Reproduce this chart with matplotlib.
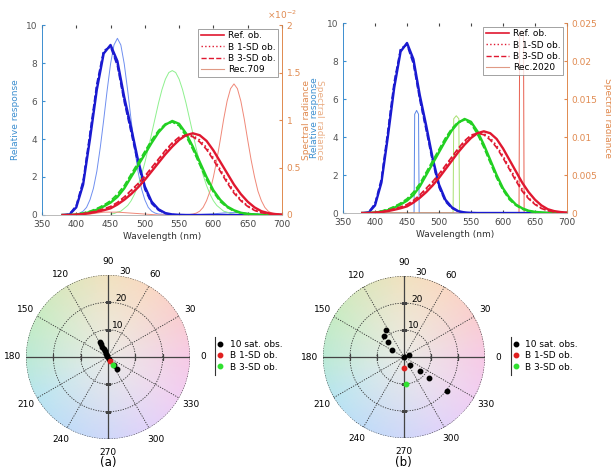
import numpy as np
import matplotlib
matplotlib.use("Agg")
import matplotlib.pyplot as plt
from matplotlib.lines import Line2D
from matplotlib.ticker import FuncFormatter

plt.rcParams['font.family'] = ['DejaVu Sans']

# ---------------- data ----------------
wl = [380, 390, 400, 410, 420, 430, 440, 450, 460, 470, 480, 490, 500, 510, 520, 530, 540,
      550, 560, 570, 580, 590, 600, 610, 620, 630, 640, 650, 660, 670, 680, 690, 700]

ref_S = [0, 0.02, 0.4, 1.6, 4.0, 6.6, 8.5, 8.95, 8.1, 6.2, 4.6, 2.9, 1.5, 0.7, 0.3, 0.1, 0.03,
         0.01, 0, 0, 0, 0, 0, 0, 0, 0, 0, 0, 0, 0, 0, 0, 0]
sd1_S = [0, 0.03, 0.45, 1.7, 4.2, 6.8, 8.6, 8.9, 7.95, 6.0, 4.45, 2.75, 1.4, 0.65, 0.27, 0.09, 0.02,
         0, 0, 0, 0, 0, 0, 0, 0, 0, 0, 0, 0, 0, 0, 0, 0]
sd3_S = [0, 0.04, 0.5, 1.8, 4.3, 6.9, 8.65, 8.85, 7.85, 5.95, 4.35, 2.7, 1.35, 0.6, 0.25, 0.08, 0.02,
         0, 0, 0, 0, 0, 0, 0, 0, 0, 0, 0, 0, 0, 0, 0, 0]

ref_M = [0, 0, 0.02, 0.08, 0.15, 0.28, 0.45, 0.65, 0.95, 1.4, 2.0, 2.6, 3.2, 3.8, 4.35, 4.75, 4.95,
         4.8, 4.3, 3.6, 2.8, 2.0, 1.3, 0.8, 0.45, 0.25, 0.12, 0.06, 0.03, 0.01, 0, 0, 0]
sd1_M = [0, 0, 0.03, 0.1, 0.18, 0.32, 0.5, 0.72, 1.05, 1.5, 2.1, 2.7, 3.3, 3.9, 4.4, 4.75, 4.9,
         4.7, 4.2, 3.5, 2.7, 1.9, 1.25, 0.75, 0.42, 0.22, 0.1, 0.05, 0.02, 0.01, 0, 0, 0]
sd3_M = [0, 0, 0.03, 0.1, 0.2, 0.34, 0.52, 0.75, 1.1, 1.55, 2.15, 2.75, 3.35, 3.95, 4.45, 4.8, 4.9,
         4.7, 4.15, 3.45, 2.65, 1.85, 1.2, 0.7, 0.4, 0.2, 0.1, 0.05, 0.02, 0.01, 0, 0, 0]

ref_L = [0, 0, 0.02, 0.05, 0.1, 0.17, 0.25, 0.35, 0.55, 0.8, 1.1, 1.45, 1.85, 2.3, 2.75, 3.2, 3.6,
         3.95, 4.2, 4.3, 4.2, 3.9, 3.4, 2.8, 2.2, 1.6, 1.1, 0.7, 0.4, 0.2, 0.1, 0.05, 0.02]
sd1_L = [0, 0, 0.02, 0.06, 0.12, 0.2, 0.3, 0.42, 0.62, 0.9, 1.25, 1.6, 2.0, 2.45, 2.9, 3.35, 3.75,
         4.05, 4.2, 4.18, 3.95, 3.55, 3.0, 2.4, 1.8, 1.25, 0.8, 0.48, 0.26, 0.13, 0.06, 0.03, 0.01]
sd3_L = [0, 0, 0.02, 0.06, 0.13, 0.22, 0.32, 0.45, 0.66, 0.95, 1.3, 1.65, 2.05, 2.5, 2.95, 3.4, 3.8,
         4.1, 4.2, 4.12, 3.85, 3.45, 2.9, 2.3, 1.7, 1.15, 0.75, 0.45, 0.24, 0.12, 0.06, 0.03, 0.01]

# Rec.709 primaries spectral radiance
r709_b_wl = [400, 405, 410, 415, 420, 425, 430, 435, 440, 445, 450, 455, 460, 465, 470, 475, 480,
             485, 490, 495, 500, 505, 510, 515, 520, 540, 560, 580, 600, 620, 640, 660, 680, 700]
r709_b = [0.0001, 0.0002, 0.0004, 0.0008, 0.0016, 0.0028, 0.0046, 0.0071, 0.0100, 0.0131, 0.0159,
          0.0179, 0.0186, 0.0179, 0.0159, 0.0131, 0.0100, 0.0071, 0.0046, 0.0028, 0.0016, 0.0008,
          0.0004, 0.0002, 0.0001, 0.00005, 0.00003, 0.00005, 0.00012, 0.00025, 0.00025, 0.00012,
          0.00004, 0]
r709_g_wl = [450, 455, 460, 465, 470, 475, 480, 485, 490, 495, 500, 505, 510, 515, 520, 525, 530,
             535, 540, 545, 550, 555, 560, 565, 570, 575, 580, 585, 590, 595, 600, 605, 610, 615,
             620, 625, 630]
r709_g = [0.0001, 0.00015, 0.0003, 0.0004, 0.0007, 0.0010, 0.0015, 0.0022, 0.0031, 0.0042, 0.0055,
          0.0070, 0.0086, 0.0102, 0.0118, 0.0132, 0.0143, 0.0150, 0.0152, 0.0150, 0.0143, 0.0132,
          0.0118, 0.0102, 0.0086, 0.0070, 0.0055, 0.0042, 0.0031, 0.0022, 0.0015, 0.0010, 0.0007,
          0.0004, 0.0003, 0.00015, 0.0001]
r709_r_wl = [400, 420, 440, 460, 480, 500, 520, 540, 560, 570, 575, 580, 585, 590, 595, 600, 605,
             610, 615, 620, 625, 630, 635, 640, 645, 650, 655, 660, 665, 670, 675, 680, 685, 690,
             695, 700]
r709_r = [0, 0.0001, 0.0003, 0.0003, 0.0002, 0.0001, 0, 0, 0, 0.0001, 0.0002, 0.0004, 0.0008,
          0.0015, 0.0025, 0.0040, 0.0058, 0.0079, 0.0101, 0.0120, 0.0133, 0.0138, 0.0133, 0.0120,
          0.0101, 0.0079, 0.0058, 0.0040, 0.0025, 0.0015, 0.0008, 0.0004, 0.0002, 0.0001, 0, 0]

# Rec.2020 (narrow-band) primaries
r2020_b_wl = [380, 461, 462, 465, 468, 469, 700]
r2020_b = [0, 0, 0.0130, 0.0135, 0.0130, 0, 0]
r2020_g_wl = [380, 522, 523, 527, 531, 532, 700]
r2020_g = [0, 0, 0.0124, 0.0128, 0.0124, 0, 0]
r2020_r_wl = [380, 625, 626, 629, 632, 633, 700]
r2020_r = [0, 0, 0.0235, 0.0240, 0.0235, 0, 0]

# chroma plane points (a*, b*)
obs_a_a = [-2.9, -2.5, -2.1, -1.6, -1.2, -0.7, -0.2, 0.3, 2.2, 3.3]
obs_a_b = [5.4, 4.6, 3.8, 3.0, 2.2, 1.2, 0.3, -0.6, -3.0, -4.3]
sd1_a_ab = (0.6, -1.5)
sd3_a_ab = (1.8, -3.0)

obs_b_a = [-6.5, -7.5, -5.9, -4.3, 0.0, 1.9, 2.3, 5.8, 9.3, 15.9]
obs_b_b = [9.9, 7.7, 5.6, 2.5, 0.0, 0.6, -3.1, -5.3, -7.8, -12.7]
sd1_b_ab = (0.0, -4.0)
sd3_b_ab = (0.6, -10.1)

obs_labels = ["10 sat. obs.", "B 1-SD ob.", "B 3-SD ob."]
angle_ticks = list(range(0, 360, 30))
r_ticks = [10, 20, 30]

# ---------------- style ----------------
C_LEFT = '#3d8fd0'
C_RIGHT = '#e08a50'
CB, CG, CR = '#1a1ad0', '#22d022', '#e01830'
FS = 6.5

fig = plt.figure(figsize=(6.11, 4.72), dpi=100)


def spectral_panel(rect, rec_specs, rec_label, right_max, right_ticks, fmt, ylabel_rot):
    ax = fig.add_axes(rect)
    ax2 = ax.twinx()
    ax.set_zorder(ax2.get_zorder() + 1)
    ax.patch.set_visible(False)
    for (x, y, c) in rec_specs:
        ax2.plot(x, y, color=c, lw=0.7)
    ax.plot(wl, ref_S, color=CB, lw=1.7)
    ax.plot(wl, sd1_S, color=CB, lw=1.2, ls=':')
    ax.plot(wl, sd3_S, color=CB, lw=1.2, ls='--')
    ax.plot(wl, ref_M, color=CG, lw=1.7)
    ax.plot(wl, sd1_M, color=CG, lw=1.2, ls=':')
    ax.plot(wl, sd3_M, color=CG, lw=1.2, ls='--')
    ax.plot(wl, ref_L, color=CR, lw=1.7)
    ax.plot(wl, sd1_L, color=CR, lw=1.2, ls=':')
    ax.plot(wl, sd3_L, color=CR, lw=1.2, ls='--')
    ax.set_xlim(350, 700)
    ax.set_ylim(0, 10)
    ax2.set_ylim(0, right_max)
    ax.set_xticks(range(350, 701, 50))
    ax.set_yticks(range(0, 11, 2))
    ax2.set_yticks(right_ticks)
    ax2.yaxis.set_major_formatter(FuncFormatter(fmt))
    ax.tick_params(axis='x', direction='in', length=2, labelsize=FS, top=True, colors='#444444')
    ax.tick_params(axis='y', direction='in', length=2, labelsize=FS, colors=C_LEFT, labelcolor='#555555')
    ax2.tick_params(axis='y', direction='in', length=2, labelsize=FS, colors=C_RIGHT)
    for a in (ax, ax2):
        a.spines['top'].set_visible(False)
        a.spines['bottom'].set_color('#bbbbbb')
        a.spines['left'].set_color(C_LEFT)
        a.spines['right'].set_color(C_RIGHT)
        a.spines['left'].set_linewidth(0.6)
        a.spines['right'].set_linewidth(0.6)
        a.spines['bottom'].set_linewidth(0.6)
    ax.set_xlabel('Wavelength (nm)', fontsize=FS, color='#333333', labelpad=2)
    ax.set_ylabel('Relative response', fontsize=FS, color=C_LEFT, labelpad=4)
    ax2.set_ylabel('Spectral radiance', fontsize=FS, color=C_RIGHT, rotation=ylabel_rot,
                   labelpad=10 if ylabel_rot == 270 else 4)
    handles = [Line2D([], [], color=CR, lw=1.2),
               Line2D([], [], color=CR, lw=1.0, ls=':'),
               Line2D([], [], color=CR, lw=1.0, ls='--'),
               Line2D([], [], color='#e09a85', lw=0.8)]
    labels = ['Ref. ob.', 'B 1-SD ob.', 'B 3-SD ob.', rec_label]
    leg = ax.legend(handles, labels, loc='upper right', fontsize=FS, frameon=True,
                    fancybox=False, edgecolor='#777777', borderaxespad=0.4,
                    handlelength=2.6, handletextpad=0.4, borderpad=0.3, labelspacing=0.25)
    leg.get_frame().set_linewidth(0.6)
    return ax, ax2


# Panel (a) top
axa, axa2 = spectral_panel([0.0687, 0.5445, 0.3928, 0.4025],
                           [(r709_b_wl, r709_b, '#6f8ff0'), (r709_g_wl, r709_g, '#8ef08e'),
                            (r709_r_wl, r709_r, '#f08878')],
                           'Rec.709', 0.02, [0, 0.005, 0.01, 0.015, 0.02],
                           lambda v, _: f'{v * 100:g}', 90)
axa2.yaxis.set_label_coords(1.085, 0.5)
axa2.text(1.0, 1.02, r'$\times10^{-2}$', transform=axa2.transAxes, fontsize=FS,
          color=C_RIGHT, ha='center', va='bottom')

# Panel (b) top
axb, axb2 = spectral_panel([0.5614, 0.5487, 0.3666, 0.4025],
                           [(r2020_b_wl, r2020_b, '#5a86e6'), (r2020_g_wl, r2020_g, '#a8e070'),
                            (r2020_r_wl, r2020_r, '#e86050')],
                           'Rec.2020', 0.025, [0, 0.005, 0.01, 0.015, 0.02, 0.025],
                           lambda v, _: f'{v:g}', 270)
axb.yaxis.set_label_coords(-0.105, 0.5)
fig.text(0.523, 0.745, 'Spectral radiance', rotation=270, fontsize=FS, color=C_RIGHT,
         ha='center', va='center', alpha=0.7)

# ---------------- polar panels ----------------
anchor_deg = [0, 30, 60, 90, 120, 150, 180, 210, 240, 270, 300, 330, 360]
anchor_rgb = np.array([(245, 192, 225), (248, 198, 200), (248, 210, 185), (238, 220, 180),
                       (215, 226, 180), (190, 232, 185), (175, 230, 205), (172, 224, 238),
                       (182, 214, 246), (198, 208, 248), (220, 203, 248), (238, 198, 240),
                       (245, 192, 225)]) / 255.0
anchor_rgb = 0.85 * anchor_rgb + 0.15
center_rgb = np.array([234, 234, 230]) / 255.0


def polar_panel(rect, oa, ob, s1, s3, leg_x):
    ax = fig.add_axes(rect, projection='polar')
    T = np.linspace(0, 2 * np.pi, 181)
    R = np.linspace(0, 30, 31)
    tc = np.degrees(0.5 * (T[:-1] + T[1:]))
    rc = 0.5 * (R[:-1] + R[1:])
    edge = np.stack([np.interp(tc, anchor_deg, anchor_rgb[:, k]) for k in range(3)], axis=-1)
    frac = (rc / 30.0)[:, None, None]
    rgb = center_rgb[None, None, :] * (1 - frac) + edge[None, :, :] * frac
    ax.pcolormesh(T, R, rgb, shading='flat', zorder=0, rasterized=True)
    ax.set_ylim(0, 30)
    ax.set_thetagrids(angle_ticks, labels=[str(a) for a in angle_ticks], fontsize=FS)
    ax.set_rgrids(r_ticks, labels=[str(r) for r in r_ticks], fontsize=FS, angle=82)
    ax.grid(True, ls=(0, (1.5, 1.5)), color='#333333', lw=0.6)
    ax.spines['polar'].set_visible(False)
    ax.tick_params(axis='x', pad=-1)
    for th in (0, np.pi / 2, np.pi, 3 * np.pi / 2):
        ax.plot([th, th], [0, 30], color='#444444', lw=0.9, zorder=2)
    for r in (10, 20):
        ax.plot([0, np.pi], [r, r], ls='none', marker='|', ms=4, mew=0.9, color='#444444', zorder=2)
        ax.plot([np.pi / 2, 3 * np.pi / 2], [r, r], ls='none', marker='_', ms=4, mew=0.9,
                color='#444444', zorder=2)
    oa = np.asarray(oa)
    ob = np.asarray(ob)
    ax.plot(np.arctan2(ob, oa), np.hypot(oa, ob), 'o', color='k', ms=3.2, zorder=4)
    ax.plot([np.arctan2(s1[1], s1[0])], [np.hypot(*s1)], 'o', color='#e02020', ms=3.2, zorder=5)
    ax.plot([np.arctan2(s3[1], s3[0])], [np.hypot(*s3)], 'o', color='#30e030', ms=3.2, zorder=5)
    handles = [Line2D([], [], ls='none', marker='o', color=c, ms=3.2)
               for c in ('k', '#e02020', '#30e030')]
    fig.legend(handles, obs_labels, loc='center left', bbox_to_anchor=(leg_x, 0.246),
               frameon=False, fontsize=FS, handlelength=0.8, handletextpad=0.6,
               labelspacing=0.25, borderaxespad=0, borderpad=0.2)
    fig.add_artist(Line2D([leg_x, leg_x], [0.205, 0.287], transform=fig.transFigure,
                          color='#333333', lw=0.8))
    return ax


polar_panel([0.0426, 0.0699, 0.2684, 0.3475], obs_a_a, obs_a_b, sd1_a_ab, sd3_a_ab, 0.352)
polar_panel([0.5286, 0.0720, 0.2650, 0.3430], obs_b_a, obs_b_b, sd1_b_ab, sd3_b_ab, 0.836)

fig.text(0.177, 0.020, '(a)', fontsize=8.5, ha='center', va='center')
fig.text(0.661, 0.020, '(b)', fontsize=8.5, ha='center', va='center')

fig.savefig('out.png', dpi=100, facecolor='white')
